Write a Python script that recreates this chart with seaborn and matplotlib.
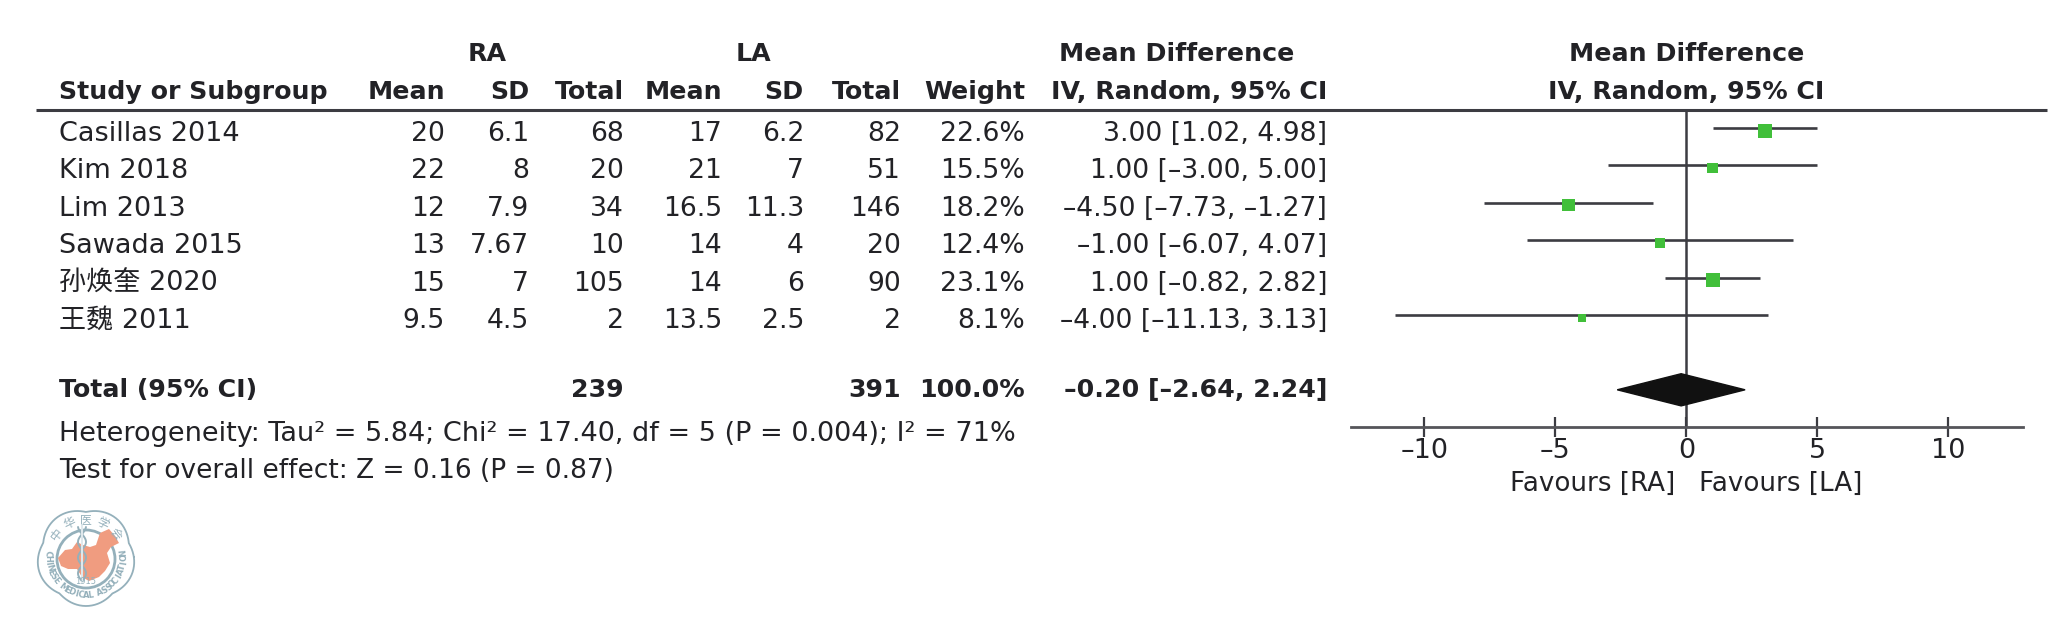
import numpy as np
import pandas as pd
import seaborn as sns
import matplotlib.pyplot as plt
from matplotlib.patches import Polygon, Circle

# table values
studies = ['Casillas 2014', 'Kim 2018', 'Lim 2013', 'Sawada 2015', '孙焕奎 2020', '王魏 2011']
ra_mean = ['20', '22', '12', '13', '15', '9.5']
ra_sd = ['6.1', '8', '7.9', '7.67', '7', '4.5']
ra_total = ['68', '20', '34', '10', '105', '2']
la_mean = ['17', '21', '16.5', '14', '14', '13.5']
la_sd = ['6.2', '7', '11.3', '4', '6', '2.5']
la_total = ['82', '51', '146', '20', '90', '2']
weight = [22.6, 15.5, 18.2, 12.4, 23.1, 8.1]
md = [3.00, 1.00, -4.50, -1.00, 1.00, -4.00]
ci_low = [1.02, -3.00, -7.73, -6.07, -0.82, -11.13]
ci_high = [4.98, 5.00, -1.27, 4.07, 2.82, 3.13]
total_md = -0.20
total_low = -2.64
total_high = 2.24
x_ticks = [-10, -5, 0, 5, 10]

sns.set_theme(style='white')
plt.rcParams['font.family'] = ['DejaVu Sans', 'Noto Sans CJK SC']

DARK = '#222226'
LINE = '#3c3c42'
GREEN = '#41bf3a'
FS = 19.5
FS_NUM = 19.2
FS_BOLD = 18.2

fig = plt.figure(figsize=(20.6, 6.36), dpi=100)

# whole figure axes in pixels, for the table text and the logo
bg = fig.add_axes([0, 0, 1, 1])
bg.set_xlim(0, 2060)
bg.set_ylim(636, 0)
bg.axis('off')


def put(x, y, s, ha='right', bold=False, size=None):
    if size is None:
        size = FS_BOLD if bold else FS
    bg.text(x, y + 8, s, ha=ha, va='baseline', fontsize=size, color=DARK,
            fontweight='bold' if bold else 'normal')


def dash(s):
    return s.replace('-', '\u2013')


# header
put(487, 53, 'RA', ha='center', bold=True)
put(753, 53, 'LA', ha='center', bold=True)
put(1177, 53, 'Mean Difference', ha='center', bold=True)
put(1687, 53, 'Mean Difference', ha='center', bold=True)
put(59, 91, 'Study or Subgroup', ha='left', bold=True)
col_right = [445, 529, 624, 722, 804, 901, 1025, 1327]
col_names = ['Mean', 'SD', 'Total', 'Mean', 'SD', 'Total', 'Weight', 'IV, Random, 95% CI']
for x, name in zip(col_right, col_names):
    put(x, 91, name, bold=True)
put(1686, 91, 'IV, Random, 95% CI', ha='center', bold=True)
bg.plot([36, 2047], [110, 110], color=LINE, lw=2.2, solid_capstyle='butt')

# study rows
for i, name in enumerate(studies):
    y = 133 + 37.4 * i
    put(59, y, name, ha='left')
    cols = [ra_mean[i], ra_sd[i], ra_total[i], la_mean[i], la_sd[i], la_total[i],
            f'{weight[i]:.1f}%',
            dash(f'{md[i]:.2f} [{ci_low[i]:.2f}, {ci_high[i]:.2f}]')]
    for x, val in zip(col_right, cols):
        put(x, y, val, size=FS_NUM)

# total row
put(59, 389, 'Total (95% CI)', ha='left', bold=True)
put(624, 389, '239', bold=True)
put(901, 389, '391', bold=True)
put(1025, 389, '100.0%', bold=True)
put(1327, 389, dash(f'{total_md:.2f} [{total_low:.2f}, {total_high:.2f}]'), bold=True)

put(59, 433, 'Heterogeneity: Tau² = 5.84; Chi² = 17.40, df = 5 (P = 0.004); I² = 71%', ha='left')
put(59, 470, 'Test for overall effect: Z = 0.16 (P = 0.87)', ha='left', size=19)
put(1675, 483, 'Favours [RA]', size=18.8)
put(1699, 483, 'Favours [LA]', ha='left', size=18.8)

# forest plot, rows are 37.4 px apart
left, right, top, bottom = 1351, 2023, 110, 427
ax = fig.add_axes([left / 2060, 1 - bottom / 636, (right - left) / 2060, (bottom - top) / 636])
ax.patch.set_alpha(0)
ax.set_xlim((left - 1686.4) / 26.2, (right - 1686.4) / 26.2)
ax.set_ylim((bottom - 128) / 37.4, (top - 128) / 37.4)
sns.despine(ax=ax, left=True)
ax.spines['bottom'].set_color('#55555a')
ax.spines['bottom'].set_linewidth(2)

df = pd.DataFrame({'md': md, 'row': np.arange(len(md)) + 0.07, 'weight': weight})
ax.axvline(0, color=LINE, lw=1.8, zorder=1)
ax.hlines(np.arange(len(md)), ci_low, ci_high, color=LINE, lw=1.9, zorder=2)
sides = {w: ((8 + (w - 8.1) * 0.4) * 0.72) ** 2 for w in weight}
sns.scatterplot(data=df, x='md', y='row', size='weight', sizes=sides, marker='s',
                color=GREEN, edgecolor='none', legend=False, ax=ax, zorder=3, clip_on=False)
ax.fill([total_low, total_md, total_high, total_md], [7, 6.57, 7, 7.43], color='#111111', zorder=4)

ax.set_xticks(x_ticks)
ax.set_xticklabels([dash(str(t)) for t in x_ticks], fontsize=FS, color=DARK)
ax.tick_params(axis='x', direction='inout', length=14.4, width=1.6, color=LINE, pad=1, bottom=True)
ax.set_yticks([])
ax.set_xlabel('')
ax.set_ylabel('')

# logo of the association, bottom left
cx, cy = 86, 557
LOGO = '#94b0bb'
t = np.linspace(0, 2 * np.pi, 400)
r = 45 + 4 * np.abs(np.cos(2.5 * (t - np.pi / 2)))
bg.plot(cx + r * np.cos(t), cy + 1.0 * r * np.sin(t), color=LOGO, lw=1.3)
bg.add_patch(Circle((cx, cy + 2), 29, fill=False, ec=LOGO, lw=2))
china = [(-28, 1), (-21, -7), (-14, -8), (-9, -15), (-3, -12), (4, -10), (10, -12), (14, -24),
         (23, -28), (29, -21), (33, -14), (25, -10), (21, -4), (24, 6), (19, 14), (13, 20),
         (3, 24), (-4, 20), (-9, 12), (-18, 12), (-25, 9)]
bg.add_patch(Polygon([(cx + a, cy + b) for a, b in china], fc='#f09c80', ec='none', zorder=3))
yy = np.linspace(cy - 30, cy + 24, 50)
for ph in [0, np.pi]:
    bg.plot(cx - 4 + 4 * np.sin(yy / 5 + ph), yy, color=LOGO, lw=1.4, zorder=4)
bg.plot([cx - 4, cx - 4], [cy - 32, cy + 25], color='#dfe8ec', lw=1.5, zorder=4)
for ch, ang in zip('中华医学会', [-142, -116, -90, -64, -38]):
    a = np.radians(ang)
    bg.text(cx + 37 * np.cos(a), cy + 37 * np.sin(a), ch, fontsize=8.5, color=LOGO, ha='center',
            va='center', rotation=-ang - 90)
label = 'CHINESE MEDICAL ASSOCIATION'
for ch, ang in zip(label, np.linspace(186, -6, len(label))):
    a = np.radians(ang)
    bg.text(cx + 38 * np.cos(a), cy + 38 * np.sin(a), ch, fontsize=6, color=LOGO, ha='center',
            va='center', rotation=90 - ang, fontweight='bold')
bg.text(cx, cy + 25, '1915', fontsize=6, color=LOGO, ha='center', va='center', zorder=5)

fig.savefig('out.png', dpi=100)
